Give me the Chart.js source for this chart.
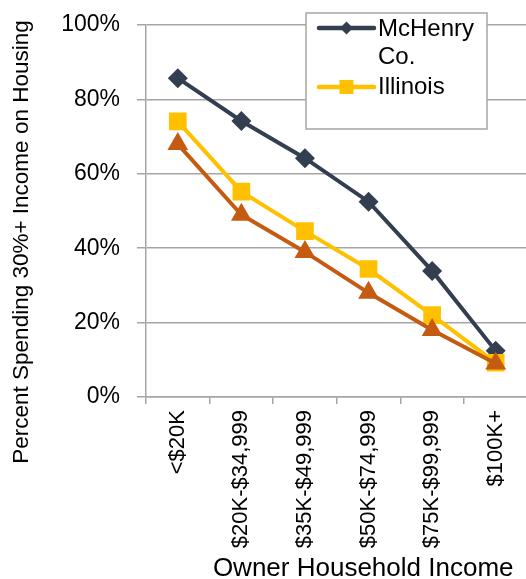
<!DOCTYPE html>
<html>
<head>
<meta charset="utf-8">
<script src="https://cdn.jsdelivr.net/npm/chart.js@4"></script>
<style>
  html, body { margin: 0; padding: 0; overflow: hidden; background: #fff; }
  canvas { display: block; }
</style>
</head>
<body>
<canvas id="c" width="540" height="579"></canvas>
<script>
// Owner households spending 30%+ of income on housing, by income bracket
const categories = ['<$20K', '$20K-$34,999', '$35K-$49,999', '$50K-$74,999', '$75K-$99,999', '$100K+'];
const mchenryValues = [85.7, 74.2, 64.2, 52.5, 33.9, 12.4];
const illinoisValues = [74.1, 55.2, 44.6, 34.4, 22.0, 9.2];
const nationValues = [68, 49, 39, 28, 18, 9];
const yTickValues = [0, 20, 40, 60, 80, 100];

const FONT = "'Liberation Sans', Arial, sans-serif";
const NAVY = '#333f50';
const GOLD = '#ffc000';
const RUST = '#c55a11';
const GRID = '#a6a6a6';

// Axis titles and the boxed legend, drawn on top of the plot
const decorations = {
  id: 'decorations',
  afterDraw(chart) {
    const { ctx, chartArea: a } = chart;
    ctx.save();
    ctx.fillStyle = '#000';

    // y-axis title
    ctx.save();
    ctx.translate(a.left - 124, a.top + 217);
    ctx.rotate(-Math.PI / 2);
    ctx.font = '22.5px ' + FONT;
    ctx.textAlign = 'center';
    ctx.textBaseline = 'middle';
    ctx.fillText('Percent Spending 30%+ Income on Housing', 0, 0);
    ctx.restore();

    // x-axis title
    ctx.font = '26px ' + FONT;
    ctx.textAlign = 'right';
    ctx.textBaseline = 'alphabetic';
    ctx.fillText('Owner Household Income', a.right - 14, chart.height - 3);

    // legend box
    const bx = a.left + 160, by = a.top - 12, bw = 181, bh = 116;
    ctx.fillStyle = '#fff';
    ctx.fillRect(bx, by, bw, bh);
    ctx.strokeStyle = GRID;
    ctx.lineWidth = 1.5;
    ctx.strokeRect(bx, by, bw, bh);

    const x0 = bx + 13, x1 = bx + 68, xm = (x0 + x1) / 2;
    ctx.lineCap = 'round';
    ctx.lineWidth = 4.5;

    // McHenry Co. entry
    let ly = by + 15;
    ctx.strokeStyle = NAVY;
    ctx.beginPath(); ctx.moveTo(x0, ly); ctx.lineTo(x1, ly); ctx.stroke();
    ctx.fillStyle = NAVY;
    ctx.beginPath();
    ctx.moveTo(xm, ly - 6.5); ctx.lineTo(xm + 6.5, ly); ctx.lineTo(xm, ly + 6.5); ctx.lineTo(xm - 6.5, ly);
    ctx.closePath(); ctx.fill();

    ctx.fillStyle = '#000';
    ctx.font = '24px ' + FONT;
    ctx.textAlign = 'left';
    ctx.textBaseline = 'alphabetic';
    ctx.fillText('McHenry', x1 + 4, by + 23);
    ctx.fillText('Co.', x1 + 4, by + 51);

    // Illinois entry
    ly = by + 74;
    ctx.strokeStyle = GOLD;
    ctx.beginPath(); ctx.moveTo(x0, ly); ctx.lineTo(x1, ly); ctx.stroke();
    ctx.fillStyle = GOLD;
    ctx.fillRect(xm - 7, ly - 7, 14, 14);
    ctx.fillStyle = '#000';
    ctx.fillText('Illinois', x1 + 4, by + 81);

    ctx.restore();
  }
};

new Chart(document.getElementById('c'), {
  type: 'line',
  data: {
    labels: categories,
    datasets: [
      {
        label: 'McHenry Co.',
        data: mchenryValues,
        borderColor: NAVY,
        backgroundColor: NAVY,
        borderWidth: 4,
        pointStyle: 'rectRot',
        pointRadius: 10,
        pointBorderWidth: 0,
        order: 3
      },
      {
        label: 'Illinois',
        data: illinoisValues,
        borderColor: GOLD,
        backgroundColor: GOLD,
        borderWidth: 4,
        pointStyle: 'rect',
        pointRadius: 12.5,
        pointBorderWidth: 0,
        order: 2
      },
      {
        label: 'United States',
        data: nationValues,
        borderColor: RUST,
        backgroundColor: RUST,
        borderWidth: 4,
        pointStyle: 'triangle',
        pointRadius: 12,
        pointBorderWidth: 0,
        order: 1
      }
    ]
  },
  options: {
    responsive: false,
    animation: false,
    layout: { padding: { top: 25, right: 11, left: 0, bottom: 0 } },
    plugins: {
      legend: { display: false },
      tooltip: { enabled: false }
    },
    elements: { line: { tension: 0 } },
    scales: {
      x: {
        offset: true,
        afterFit(scale) { scale.height = 182; },
        grid: {
          offset: true,
          drawOnChartArea: false,
          drawTicks: true,
          tickLength: 7,
          color: GRID,
          lineWidth: 1.5
        },
        border: { display: true, color: GRID, width: 1.5 },
        ticks: {
          minRotation: 90,
          maxRotation: 90,
          autoSkip: false,
          padding: 6,
          color: '#000',
          font: { family: FONT, size: 22 }
        }
      },
      y: {
        min: 0,
        max: 100,
        afterFit(scale) {
          scale.width = 146;
          scale.paddingTop = 0;
          scale.paddingBottom = 0;
        },
        afterBuildTicks(scale) { scale.ticks = yTickValues.map(v => ({ value: v })); },
        grid: {
          drawTicks: true,
          tickLength: 9,
          color: GRID,
          lineWidth: 1.5
        },
        border: { display: true, color: GRID, width: 1.5 },
        ticks: {
          padding: 17,
          color: '#000',
          font: { family: FONT, size: 23 },
          callback: v => v + '%'
        }
      }
    }
  },
  plugins: [decorations]
});
</script>
</body>
</html>
